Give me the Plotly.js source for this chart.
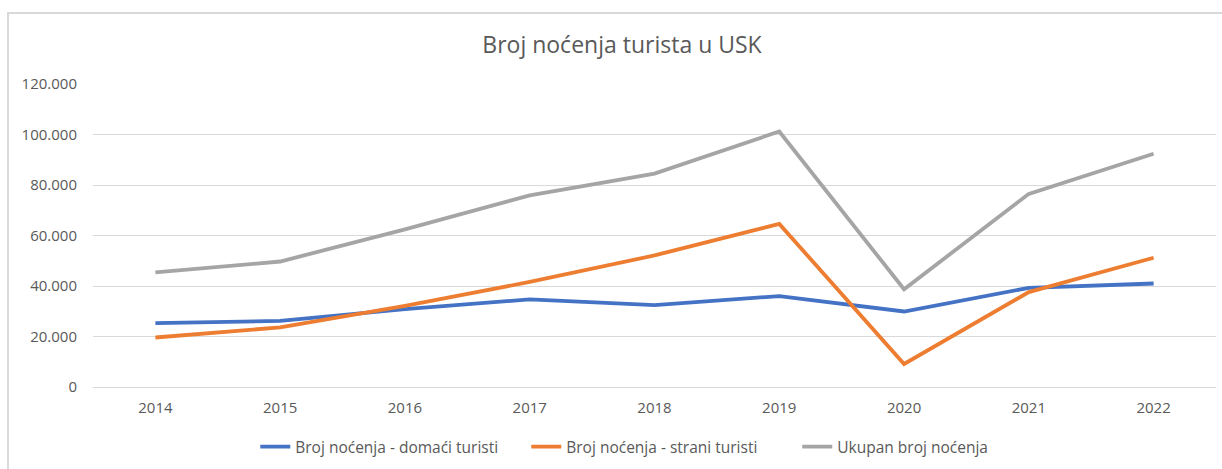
<!DOCTYPE html>
<html>
<head>
<meta charset="utf-8">
<script src="https://cdn.plot.ly/plotly-3.0.1.min.js"></script>
<style>
html,body{margin:0;padding:0;background:#fff;overflow:hidden;}
#chart{width:1222px;height:469px;position:absolute;left:0;top:0;}
#frame{position:absolute;left:7px;top:12px;width:1300px;height:600px;border:2px solid #d9d9d9;box-sizing:border-box;pointer-events:none;}
</style>
</head>
<body>
<div id="chart"></div>
<div id="frame"></div>
<script>
const years = ['2014','2015','2016','2017','2018','2019','2020','2021','2022'];
const domaci = [25300, 26200, 30800, 34700, 32400, 36000, 29900, 39300, 41000];
const strani = [19600, 23600, 32100, 41600, 52100, 64600, 9100, 37600, 51200];
const ukupno = [45400, 49700, 62400, 75900, 84500, 101200, 38700, 76500, 92400];
const seriesNames = ['Broj noćenja - domaći turisti', 'Broj noćenja - strani turisti', 'Ukupan broj noćenja'];
const yTicks = [0, 20000, 40000, 60000, 80000, 100000, 120000];

const font = 'Open Sans, Liberation Sans, sans-serif';
const grey = '#595959';
const colors = ['#4472C4', '#ED7D31', '#A5A5A5'];
const data = [domaci, strani, ukupno].map((v, i) => ({
  x: years, y: v, type: 'scatter', mode: 'lines', name: seriesNames[i],
  line: {color: colors[i], width: 3.8, shape: 'linear'}
}));

const layout = {
  width: 1222, height: 469,
  margin: {l: 93, r: 6, t: 84, b: 81},
  paper_bgcolor: 'rgba(0,0,0,0)', plot_bgcolor: '#fff',
  separators: ',.',
  font: {family: font, color: grey, size: 15},
  title: {text: 'Broj noćenja turista u USK', x: 0.509, xanchor: 'center', y: 0.905, yanchor: 'middle',
          font: {family: font, size: 23, color: grey}},
  xaxis: {type: 'category', range: [-0.5, 8.5], showgrid: false, zeroline: false, showline: false,
          ticks: '', tickfont: {size: 15, color: grey}, ticklabelstandoff: 10},
  yaxis: {range: [0, 120000], tickvals: yTicks, tickformat: ',d', showgrid: true,
          gridcolor: '#d9d9d9', gridwidth: 1, zeroline: true, zerolinecolor: '#d9d9d9', zerolinewidth: 1,
          showline: false, ticks: '', tickfont: {size: 15, color: grey}, ticklabelstandoff: 15},
  showlegend: true,
  legend: {orientation: 'h', x: 0.1445, xanchor: 'left', y: -0.194, yanchor: 'middle',
           font: {size: 15.5, color: grey}, itemwidth: 30, entrywidth: 226, traceorder: 'normal'},
  hovermode: false
};
Plotly.newPlot('chart', data, layout, {displayModeBar: false, staticPlot: true});
</script>
</body>
</html>
